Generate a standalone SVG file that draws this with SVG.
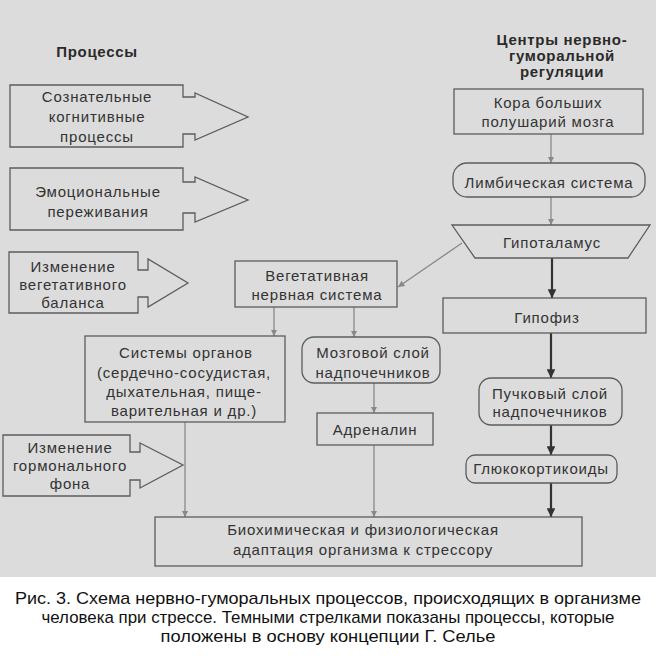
<svg xmlns="http://www.w3.org/2000/svg" width="656" height="663" viewBox="0 0 656 663">
<defs>
<style>
.bg{fill:#dcdcdc}
.box{fill:none;stroke:#5c5c5c;stroke-width:1.3}
.t{font-family:"Liberation Sans",Arial,sans-serif;font-size:15px;fill:#333;text-anchor:middle;letter-spacing:0.8px}
.h{font-family:"Liberation Sans",Arial,sans-serif;font-size:15px;font-weight:bold;fill:#2a2a2a;text-anchor:middle;letter-spacing:0.7px}
.cap{font-family:"Liberation Sans",Arial,sans-serif;font-size:17px;fill:#111;text-anchor:middle}
.lt{stroke:#888;stroke-width:1.3;fill:none;marker-end:url(#ah-l)}
.dk{stroke:#333;stroke-width:2.2;fill:none;marker-end:url(#ah-d)}
</style>
<marker id="ah-l" viewBox="0 0 10 10" refX="10" refY="5" markerWidth="5" markerHeight="7" markerUnits="strokeWidth" orient="auto">
<path d="M0,0 L10,5 L0,10 Z" fill="#888"/>
</marker>
<marker id="ah-d" viewBox="0 0 10 10" refX="10" refY="5" markerWidth="4" markerHeight="4" markerUnits="strokeWidth" orient="auto">
<path d="M0,0 L10,5 L0,10 Z" fill="#333"/>
</marker>
</defs>
<rect class="bg" x="0" y="0" width="656" height="577"/>
<rect x="0" y="577" width="656" height="86" fill="#ffffff"/>

<g id="titles">
<text class="h" x="97" y="57">Процессы</text>
<text class="h" x="562" y="45">Центры нервно-</text>
<text class="h" x="562" y="61">гуморальной</text>
<text class="h" x="562" y="77">регуляции</text>
</g>

<g id="connectors">
<line class="lt" x1="551" y1="134" x2="551" y2="163"/>
<line class="lt" x1="551" y1="197" x2="551" y2="225"/>
<line class="dk" x1="552" y1="258" x2="552" y2="298"/>
<line class="dk" x1="551" y1="333" x2="551" y2="378"/>
<line class="dk" x1="551" y1="425" x2="551" y2="455"/>
<line class="dk" x1="551" y1="483" x2="551" y2="517"/>
<line class="lt" x1="462" y1="243" x2="398" y2="287"/>
<line class="lt" x1="274" y1="307" x2="274" y2="336"/>
<line class="lt" x1="354" y1="307" x2="354" y2="337"/>
<line class="lt" x1="374" y1="383" x2="374" y2="413"/>
<line class="lt" x1="374" y1="445" x2="374" y2="517"/>
<line class="lt" x1="185" y1="422" x2="185" y2="517"/>
</g>

<g id="proc-cognitive">
<path class="box" d="M10,85 H183 V97 H195 V93 L248,117 L195,140 V134 H183 V147 H10 Z"/>
<text class="t" x="97" y="102">Сознательные</text>
<text class="t" x="97" y="122">когнитивные</text>
<text class="t" x="97" y="142">процессы</text>
</g>
<g id="proc-emotional">
<path class="box" d="M10,168 H183 V182 H195 V177 L248,200 L195,222 V213 H183 V230 H10 Z"/>
<text class="t" x="98" y="197">Эмоциональные</text>
<text class="t" x="98" y="217">переживания</text>
</g>
<g id="proc-vegetative">
<path class="box" d="M9,252 H138 V270 H148 V259 L188,283 L148,307 V297 H138 V313 H9 Z"/>
<text class="t" x="73" y="272">Изменение</text>
<text class="t" x="73" y="290">вегетативного</text>
<text class="t" x="73" y="308">баланса</text>
</g>
<g id="proc-hormonal">
<path class="box" d="M3,435 H130 V452 H140 V443 L183,465 L140,488 V480 H130 V496 H3 Z"/>
<text class="t" x="70" y="453">Изменение</text>
<text class="t" x="70" y="471">гормонального</text>
<text class="t" x="70" y="489">фона</text>
</g>

<g id="cortex">
<rect class="box" x="454" y="89" width="189" height="45"/>
<text class="t" x="548" y="108">Кора больших</text>
<text class="t" x="548" y="127">полушарий мозга</text>
</g>
<g id="limbic">
<rect class="box" x="453" y="163" width="192" height="34" rx="14"/>
<text class="t" x="549" y="188">Лимбическая система</text>
</g>
<g id="hypothalamus">
<polygon class="box" points="452,225 650,225 628,258 475,258"/>
<text class="t" x="552" y="248">Гипоталамус</text>
</g>
<g id="pituitary">
<rect class="box" x="443" y="298" width="203" height="35"/>
<text class="t" x="547" y="323">Гипофиз</text>
</g>
<g id="cortex-fasciculata">
<rect class="box" x="479" y="378" width="143" height="47" rx="12"/>
<text class="t" x="550" y="399">Пучковый слой</text>
<text class="t" x="550" y="417">надпочечников</text>
</g>
<g id="glucocorticoids">
<rect class="box" x="466" y="455" width="151" height="28" rx="9"/>
<text class="t" x="541" y="474">Глюкокортикоиды</text>
</g>
<g id="ans">
<rect class="box" x="235" y="261" width="162" height="46"/>
<text class="t" x="317" y="281">Вегетативная</text>
<text class="t" x="317" y="300">нервная система</text>
</g>
<g id="organ-systems">
<rect class="box" x="85" y="336" width="200" height="86"/>
<text class="t" x="186" y="358">Системы органов</text>
<text class="t" x="184" y="378">(сердечно-сосудистая,</text>
<text class="t" x="184" y="397">дыхательная, пище-</text>
<text class="t" x="184" y="416">варительная и др.)</text>
</g>
<g id="medulla">
<rect class="box" x="302" y="337" width="138" height="46" rx="12"/>
<text class="t" x="373" y="358">Мозговой слой</text>
<text class="t" x="373" y="378">надпочечников</text>
</g>
<g id="adrenaline">
<rect class="box" x="317" y="413" width="116" height="32"/>
<text class="t" x="375" y="435">Адреналин</text>
</g>
<g id="adaptation">
<rect class="box" x="155" y="517" width="427" height="49"/>
<text class="t" x="363" y="535">Биохимическая и физиологическая</text>
<text class="t" x="363" y="555">адаптация организма к стрессору</text>
</g>

<g id="caption">
<text class="cap" x="328" y="604" textLength="626" lengthAdjust="spacingAndGlyphs">Рис. 3. Схема нервно-гуморальных процессов, происходящих в организме</text>
<text class="cap" x="328" y="623" textLength="573" lengthAdjust="spacingAndGlyphs">человека при стрессе. Темными стрелками показаны процессы, которые</text>
<text class="cap" x="328" y="642" textLength="335" lengthAdjust="spacingAndGlyphs">положены в основу концепции Г. Селье</text>
</g>
</svg>
